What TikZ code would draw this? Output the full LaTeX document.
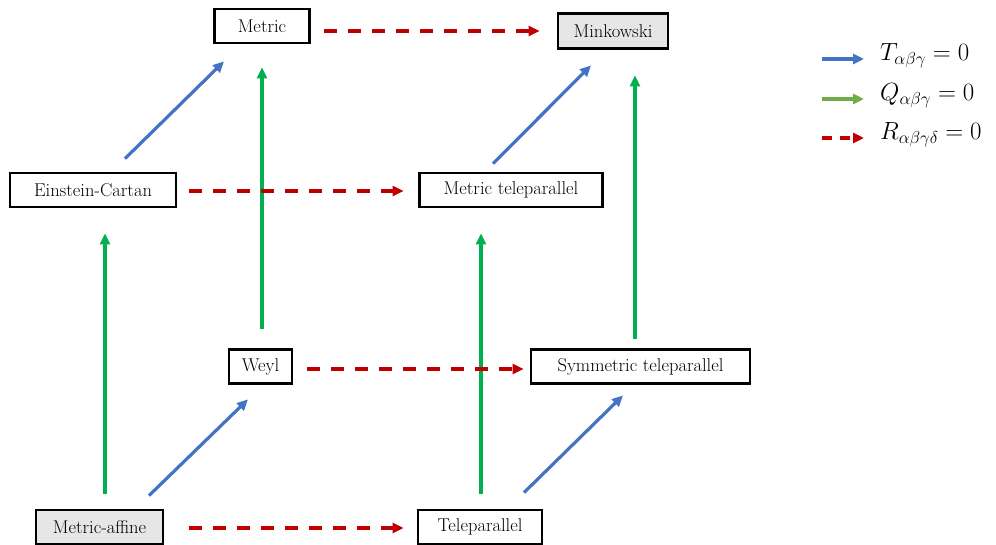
\documentclass[tikz,border=0pt]{standalone}
\usetikzlibrary{arrows.meta}
\definecolor{bl}{HTML}{4472C4}
\definecolor{gr}{HTML}{00B050}
\definecolor{lgr}{HTML}{70AD47}
\definecolor{rd}{HTML}{C00000}
\definecolor{gf}{HTML}{E7E6E6}
\begin{document}
\begin{tikzpicture}[x=1pt,y=1pt,
  box/.style={draw=black,line width=2.8pt,minimum height=34pt,inner sep=0pt,font=\fontsize{18.5}{22}\selectfont},
  gbox/.style={box,fill=gf},
  tip/.style={-{Triangle[length=11pt,width=10pt]}},
  barrow/.style={tip,draw=bl,line width=3.2pt},
  garrow/.style={tip,draw=gr,line width=3.2pt},
  larrow/.style={tip,draw=lgr,line width=3.2pt},
  rarrow/.style={tip,draw=rd,line width=3.2pt,dash pattern=on 13pt off 11pt},
  legtext/.style={anchor=west,inner sep=0pt,font=\fontsize{26}{30}\selectfont}]
\useasboundingbox (0,0) rectangle (996,544);
\node[box,minimum width=95pt] (metric) at (262,518) {Metric};
\node[gbox,minimum width=110pt,minimum height=35pt] (mink) at (613,513) {Minkowski};
\node[box,minimum width=166pt] (ec) at (93,354) {Einstein-Cartan};
\node[box,minimum width=183pt] (mt) at (511,354) {Metric teleparallel};
\node[box,minimum width=63pt] (weyl) at (260.5,177.5) {Weyl};
\node[box,minimum width=219pt] (symm) at (640.5,177.5) {Symmetric teleparallel};
\node[gbox,minimum width=127pt] (ma) at (99.5,17) {Metric-affine};
\node[box,minimum width=124pt] (tele) at (480,17) {Teleparallel};
% green
\draw[garrow] ([shift={(5.5,15)}]ma.north) -- ([shift={(12,-25)}]ec.south);
\draw[garrow] ([shift={(1.5,19.5)}]weyl.north) -- ([shift={(0,-23)}]metric.south);
\draw[garrow] ([shift={(1,15)}]tele.north) -- ([shift={(-30,-25)}]mt.south);
\draw[garrow] ([shift={(-5.5,9.5)}]symm.north) -- ([shift={(22,-25.5)}]mink.south);
% red
\draw[rarrow] ([shift={(13,-5)}]metric.east) -- ([shift={(-17,0)}]mink.west);
\draw[rarrow] ([shift={(12,-1)}]ec.east) -- ([shift={(-14.5,-1)}]mt.west);
\draw[rarrow] ([shift={(14,-2.5)}]weyl.east) -- ([shift={(-6,-2.5)}]symm.west);
\draw[rarrow] ([shift={(25,-1)}]ma.east) -- ([shift={(-13,-1)}]tele.west);
% blue
\draw[barrow] ([shift={(32,13)}]ec.north) -- ([shift={(-38,-17)}]metric.south);
\draw[barrow] ([shift={(49.5,13)}]ma.north) -- ([shift={(-12.5,-14.5)}]weyl.south);
\draw[barrow] ([shift={(-18,8)}]mt.north) -- ([shift={(-22,-15.5)}]mink.south);
\draw[barrow] ([shift={(44,16)}]tele.north) -- ([shift={(-17.5,-10.5)}]symm.south);
% legend
\node[legtext] (lt) at (880,488) {$T_{\alpha\beta\gamma}=0$};
\node[legtext] (lq) at (880,448) {$Q_{\alpha\beta\gamma}=0$};
\node[legtext] (lr) at (880,409) {$R_{\alpha\beta\gamma\delta}=0$};
\coordinate (ct) at (822,485);
\coordinate (cq) at (822,445);
\coordinate (cr) at (822,406);
\draw[barrow] (ct) -- ([xshift=-16pt]ct -| lt.west);
\draw[larrow] (cq) -- ([xshift=-16pt]cq -| lq.west);
\draw[rarrow,dash pattern=on 10pt off 8pt] (cr) -- ([xshift=-16pt]cr -| lr.west);
\end{tikzpicture}
\end{document}
